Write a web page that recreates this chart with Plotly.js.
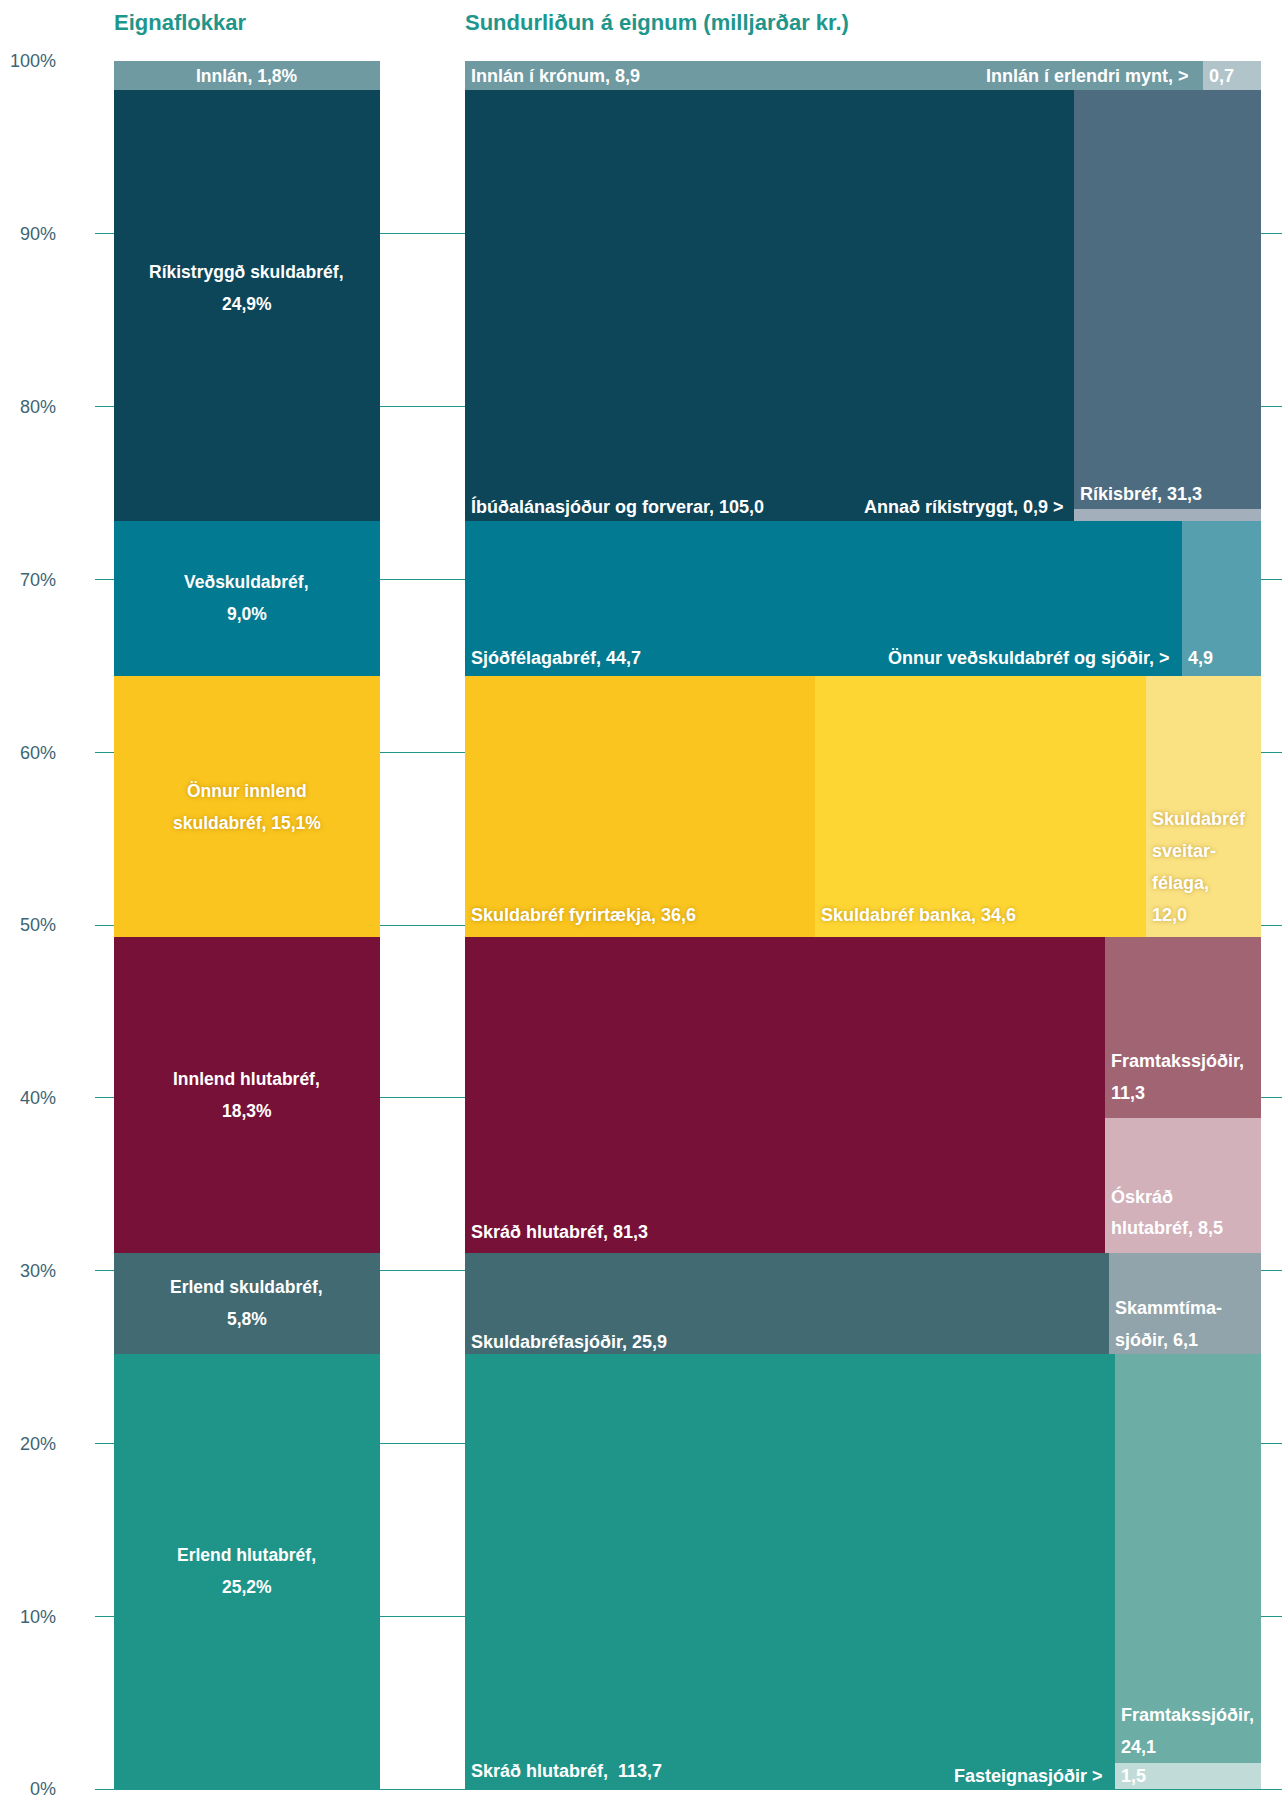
<!DOCTYPE html>
<html><head><meta charset="utf-8">
<script src="https://cdn.plot.ly/plotly-3.0.1.min.js"></script>
<style>html,body{margin:0;padding:0;background:#fff}#chart{width:1284px;height:1798px}</style>
</head><body><div id="chart"></div>
<script>
// ---------------- DATA ----------------
const categories = ['Erlend hlutabréf', 'Erlend skuldabréf', 'Innlend hlutabréf', 'Önnur innlend skuldabréf', 'Veðskuldabréf', 'Ríkistryggð skuldabréf', 'Innlán'];
const categoryShares = [25.2, 5.8, 18.3, 15.1, 9.0, 24.9, 1.8];
const categoryLabelLines = [
  ['Erlend hlutabréf,', '{p}'],
  ['Erlend skuldabréf,', '{p}'],
  ['Innlend hlutabréf,', '{p}'],
  ['Önnur innlend', 'skuldabréf, {p}'],
  ['Veðskuldabréf,', '{p}'],
  ['Ríkistryggð skuldabréf,', '{p}'],
  ['Innlán, {p}']
];

const erlendHlutNames = ['Skráð hlutabréf', 'Framtakssjóðir', 'Fasteignasjóðir'];
const erlendHlutValues = [113.7, 24.1, 1.5];
const erlendSkuldNames = ['Skuldabréfasjóðir', 'Skammtímasjóðir'];
const erlendSkuldValues = [25.9, 6.1];
const innlendHlutNames = ['Skráð hlutabréf', 'Framtakssjóðir', 'Óskráð hlutabréf'];
const innlendHlutValues = [81.3, 11.3, 8.5];
const onnurSkuldNames = ['Skuldabréf fyrirtækja', 'Skuldabréf banka', 'Skuldabréf sveitarfélaga'];
const onnurSkuldValues = [36.6, 34.6, 12.0];
const vedNames = ['Sjóðfélagabréf', 'Önnur veðskuldabréf og sjóðir'];
const vedValues = [44.7, 4.9];
const rikisNames = ['Íbúðalánasjóður og forverar', 'Ríkisbréf', 'Annað ríkistryggt'];
const rikisValues = [105.0, 31.3, 0.9];
const innlanNames = ['Innlán í krónum', 'Innlán í erlendri mynt'];
const innlanValues = [8.9, 0.7];

const yTickValues = [0, 10, 20, 30, 40, 50, 60, 70, 80, 90, 100];
const yTickLabels = ['0%', '10%', '20%', '30%', '40%', '50%', '60%', '70%', '80%', '90%', '100%'];

const leftTitle = 'Eignaflokkar';
const rightTitle = 'Sundurliðun á eignum (milljarðar kr.)';

// ---------------- LAYOUT / STYLE CONFIG ----------------
const FONT = 'Liberation Sans, Arial, Helvetica, sans-serif';
const TEAL = '#1f968b';
const XR = 1187;                 // x-axis units (1 unit = 1 px)
const LEFT = [19, 284.5];
const RIGHT = [370, 1166];
const LINE = 32;                 // line spacing of labels (px)
const yellowShadow = '0px 0px 4px rgba(150,105,0,0.55)';

const rows = [
  { names: erlendHlutNames, values: erlendHlutValues, mode: 'column',
    colors: ['#1f958a', '#6cada5', '#c1dcd8'],
    labels: [{ t: ['{n},\u00a0 {v}'], off: 18 }, { t: ['Framtakssjóðir,', '{v}'], off: 16 },
             { arrow: '{n} >', inner: '{v}', center: true, gap: 10 }] },
  { names: erlendSkuldNames, values: erlendSkuldValues, mode: 'row',
    colors: ['#426a73', '#91a4ab'],
    labels: [{ t: ['{n}, {v}'], off: 12 }, { t: ['Skammtíma-', 'sjóðir, {v}'], off: 14 }] },
  { names: innlendHlutNames, values: innlendHlutValues, mode: 'column',
    colors: ['#771138', '#a16473', '#d2b1ba'],
    labels: [{ t: ['{n}, {v}'], off: 21 }, { t: ['Framtakssjóðir,', '{v}'], off: 25 },
             { t: ['Óskráð', 'hlutabréf, {v}'], off: 25 }] },
  { names: onnurSkuldNames, values: onnurSkuldValues, mode: 'row', shadow: true,
    colors: ['#fac51f', '#fed634', '#fae283'],
    labels: [{ t: ['{n}, {v}'], off: 22 }, { t: ['{n}, {v}'], off: 22 },
             { t: ['Skuldabréf', 'sveitar-', 'félaga,', '{v}'], off: 22 }] },
  { names: vedNames, values: vedValues, mode: 'row',
    colors: ['#027a91', '#569fae'],
    labels: [{ t: ['{n}, {v}'], off: 18 }, { arrow: '{n}, >', inner: '{v}', off: 18, gap: 10 }] },
  { names: rikisNames, values: rikisValues, mode: 'column', nudge: 18,
    colors: ['#0d4559', '#4e6c80', '#a4afbc'],
    labels: [{ t: ['{n}, {v}'], off: 14 }, { t: ['{n}, {v}'], off: 15 },
             { arrow: '{n}, {v} >', off: 14, gap: 8 }] },
  { names: innlanNames, values: innlanValues, mode: 'row',
    colors: ['#6f9aa2', '#b0c4ca'],
    labels: [{ t: ['{n}, {v}'], center: true }, { arrow: '{n}, >', inner: '{v}', center: true, gap: 12 }] }
];

const fmt = v => v.toFixed(1).replace('.', ',');
const fill = (s, n, v) => s.replace('{n}', n).replace('{v}', fmt(v));

// ---------------- BUILD ----------------
const bx = [], bw = [], bb = [], bh = [], bc = [];
const ann = [];
function addRect(x0, x1, y0, y1, c) {
  bx.push((x0 + x1) / 2); bw.push(x1 - x0); bb.push(y0); bh.push(y1 - y0); bc.push(c);
}
function textAnn(text, x, y, xanchor, xshift, yshift, size, shadow) {
  const f = { family: FONT, size: size, color: '#ffffff' };
  if (shadow) f.shadow = yellowShadow;
  ann.push({ text: '<b>' + text + '</b>', x: x, y: y, xref: 'x', yref: 'y', xanchor: xanchor,
    yanchor: 'middle', xshift: xshift, yshift: yshift, showarrow: false, font: f });
}

let cum = 0;
rows.forEach((row, i) => {
  const share = categoryShares[i];
  const y0 = cum, y1 = cum + share;
  cum = y1;
  const yTopVis = Math.min(y1, 100);
  // left column
  addRect(LEFT[0], LEFT[1], y0, y1, row.colors[0]);
  const lines = categoryLabelLines[i].map(s => s.replace('{p}', fmt(share) + '%'));
  const cy = (y0 + yTopVis) / 2;
  lines.forEach((s, k) => {
    const ys = (lines.length - 1) * LINE / 2 - k * LINE + (row.nudge || 0);
    textAnn(s, (LEFT[0] + LEFT[1]) / 2, cy, 'center', 0, ys, 17.5, row.shadow);
  });
  // right column (treemap slice)
  const vals = row.values;
  const tot = vals.reduce((a, b) => a + b, 0);
  const W = RIGHT[1] - RIGHT[0];
  const rects = [];
  if (row.mode === 'row') {
    let x = RIGHT[0];
    vals.forEach(v => { const w = v / tot * W; rects.push([x, x + w, y0, y1]); x += w; });
  } else {
    const w0 = vals[0] / tot * W;
    rects.push([RIGHT[0], RIGHT[0] + w0, y0, y1]);
    const rest = vals.slice(1);
    const restTot = rest.reduce((a, b) => a + b, 0);
    let yt = y1;
    rest.forEach(v => { const h = v / restTot * share; rects.push([RIGHT[0] + w0, RIGHT[1], yt - h, yt]); yt -= h; });
  }
  rects.forEach((r, j) => {
    addRect(r[0], r[1], r[2], r[3], row.colors[j]);
    const L = row.labels[j];
    const name = row.names[j], v = vals[j];
    const rc = (r[2] + Math.min(r[3], 100)) / 2;
    if (L.arrow) {
      const yy = L.center ? rc : r[2];
      const ys = L.center ? 0 : L.off;
      textAnn(fill(L.arrow, name, v), r[0], yy, 'right', -L.gap, ys, 18, row.shadow);
      if (L.inner) textAnn(fill(L.inner, name, v), r[0], yy, 'left', 4, ys, 18, row.shadow);
    } else if (L.center) {
      textAnn(fill(L.t[0], name, v), r[0], rc, 'left', 4, 0, 18, row.shadow);
    } else {
      const n = L.t.length;
      L.t.forEach((s, k) => {
        textAnn(fill(s, name, v), r[0], r[2], 'left', 4, L.off + (n - 1 - k) * LINE, 18, row.shadow);
      });
    }
  });
});

// titles
[[leftTitle, LEFT[0]], [rightTitle, RIGHT[0]]].forEach(([t, x]) => {
  ann.push({ text: '<b>' + t + '</b>', x: x, xref: 'x', y: 1, yref: 'paper', xanchor: 'left', yanchor: 'middle',
    yshift: 39, xshift: -2, showarrow: false, font: { family: FONT, size: 22, color: TEAL } });
});

const trace = {
  type: 'bar', x: bx, y: bh, base: bb, width: bw,
  marker: { color: bc, line: { width: 0 } },
  hoverinfo: 'skip', showlegend: false
};

const layout = {
  width: 1284, height: 1798,
  margin: { l: 95, r: 2, t: 61, b: 9, pad: 0 },
  paper_bgcolor: '#ffffff', plot_bgcolor: '#ffffff',
  barmode: 'overlay', bargap: 0,
  showlegend: false,
  xaxis: { range: [0, XR], visible: false, fixedrange: true },
  yaxis: {
    range: [0, 100], tickvals: yTickValues, ticktext: yTickLabels,
    showgrid: true, gridcolor: TEAL, gridwidth: 1,
    zeroline: true, zerolinecolor: TEAL, zerolinewidth: 1,
    showline: false, ticks: '', ticklabelstandoff: 38, ticklabeloverflow: 'allow',
    tickfont: { family: FONT, size: 18, color: '#3c6574' }, fixedrange: true
  },
  annotations: ann
};

Plotly.newPlot('chart', [trace], layout, { displayModeBar: false, staticPlot: true });
</script>
</body></html>
